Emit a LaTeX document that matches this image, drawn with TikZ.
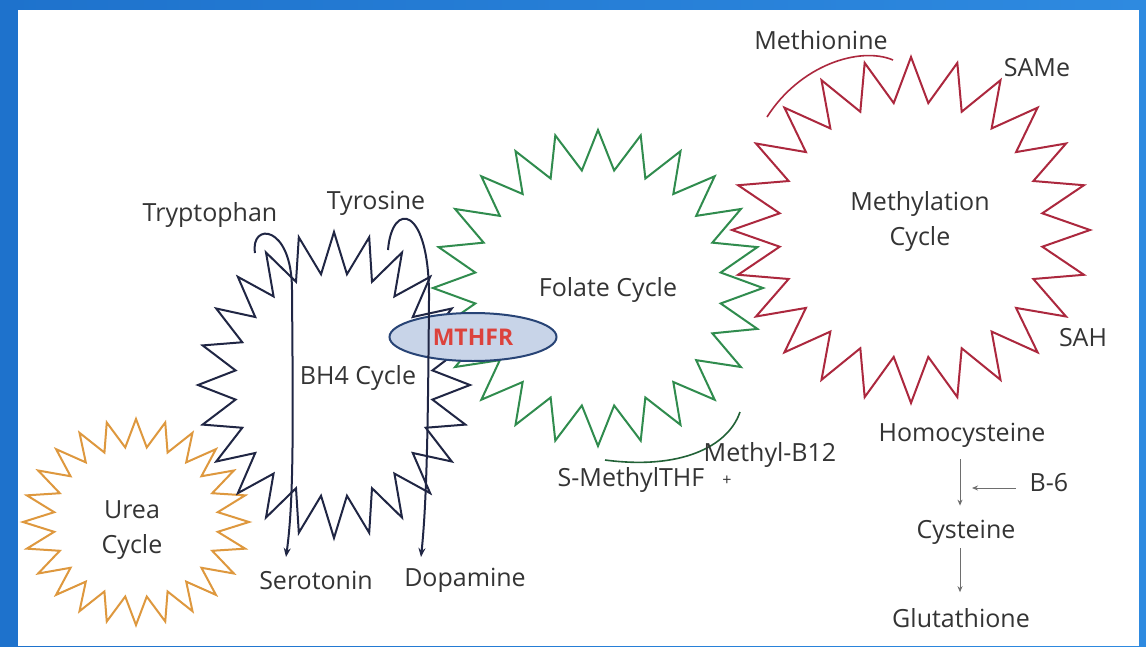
\documentclass[tikz,border=0pt]{standalone}
\usepackage{fontspec}
\setmainfont{Open Sans}
\usetikzlibrary{arrows.meta,shapes.geometric}
\definecolor{frameL}{RGB}{30,114,204}
\definecolor{frameR}{RGB}{46,138,224}
\definecolor{txt}{RGB}{52,52,52}
\definecolor{urea}{RGB}{222,152,62}
\definecolor{navy}{RGB}{32,38,68}
\definecolor{folate}{RGB}{48,140,78}
\definecolor{methyl}{RGB}{172,40,62}
\definecolor{ellfill}{RGB}{200,212,232}
\definecolor{elldraw}{RGB}{40,68,118}
\definecolor{mthfr}{RGB}{220,66,60}
\definecolor{garr}{RGB}{110,110,110}
\newcommand\zigstar[8]{%
  \draw[#1] plot[samples at={0,...,#7}]
    ({#2+#4*(1-(1-#6)*mod(\x,2))*cos(\x*(360/#7)+#8)},
     {#3+#5*(1-(1-#6)*mod(\x,2))*sin(\x*(360/#7)+#8)}) -- cycle;}
\tikzset{
  lbl/.style={text=txt, font=\fontsize{25}{35}\selectfont, inner sep=0pt},
  starline/.style={line width=2pt, line join=miter},
  navyloop/.style={draw=navy, line width=2pt, -{Stealth[length=9pt,width=7pt]}},
  garrow/.style={draw=garr, line width=1pt, -{Stealth[length=6pt,width=5pt]}},
}
\begin{document}
\begin{tikzpicture}[x=1pt,y=-1pt]
\useasboundingbox (0,0) rectangle (1146,646);
\shade[left color=frameL, right color=frameR] (0,0) rectangle (1146,646);
\fill[white] (18,10) rectangle (1139,646);

% cycles
\zigstar{starline, draw=methyl}{911}{230}{179}{173}{0.74}{48}{270}
\zigstar{starline, draw=folate}{598}{288}{165}{158}{0.75}{48}{270}
\zigstar{starline, draw=urea}{136}{522}{113}{103}{0.73}{48}{270}
\zigstar{starline, draw=navy}{334}{385}{136}{153}{0.73}{48}{270}

% arcs
\draw[methyl, line width=1.6pt] (767,117) .. controls (800,65) and (860,46) .. (893,60);
\draw[folate!70!black, line width=1.6pt] (740,412) .. controls (728,447) and (680,470) .. (605,460);

% labels
\node[lbl] (trp) at (210,215) {Tryptophan};
\node[lbl] (tyr) at (376,203) {Tyrosine};
\node[lbl] (bh4) at (358,378) {BH4 Cycle};
\node[lbl] (ser) at (316,580) {Serotonin};
\node[lbl] (dop) at (465,580) {Dopamine};
\node[lbl, align=center] (ureal) at (132,530) {Urea\\Cycle};
\node[lbl] (fol) at (608,290) {Folate Cycle};
\node[lbl, align=center] (meth) at (920,221) {Methylation\\Cycle};
\node[lbl] (metn) at (821,40) {Methionine};
\node[lbl] (same) at (1037,68) {SAMe};
\node[lbl] (sah) at (1083,338) {SAH};
\node[lbl] (b12) at (770,455) {Methyl-B12};
\node[lbl] (smt) at (631,480) {S-MethylTHF};
\node[lbl, font=\fontsize{16}{20}\selectfont] (plus) at (727,481) {+};
\node[lbl] (hcy) at (962,435) {Homocysteine};
\node[lbl] (b6) at (1049,483) {B-6};
\node[lbl] (cys) at (966,532) {Cysteine};
\node[lbl] (glu) at (961,618) {Glutathione};

% MTHFR enzyme
\node[ellipse, draw=elldraw, fill=ellfill, line width=2pt, minimum width=167pt, minimum height=48pt,
      inner sep=0pt, text=mthfr, font=\fontsize{23}{28}\selectfont\bfseries] (mthfrn) at (473,337) {MTHFR};

% BH4 loops
\coordinate (trpstart) at (255,253);
\coordinate (serin) at (286,557);
\coordinate (tyrstart) at (388,250);
\coordinate (dopin) at (421,557);
\draw[navyloop] (trpstart) .. controls (250,222) and (292,224) .. (292,290)
  .. controls (293,420) and (294,500) .. (serin);
\draw[navyloop] (tyrstart) .. controls (392,200) and (430,205) .. (429,300)
  .. controls (428,420) and (427,500) .. (dopin);

% transsulfuration
\coordinate (b6end) at (972,488);
\draw[garrow] ([yshift=-12pt]hcy.south -| 960,0) -- ([yshift=14pt]cys.north -| 960,0);
\draw[garrow] ([xshift=-14pt,yshift=-5pt]b6.west) -- (b6end);
\draw[garrow] ([yshift=-4pt]cys.south -| 960,0) -- ([yshift=16pt]glu.north -| 960,0);
\end{tikzpicture}
\end{document}
